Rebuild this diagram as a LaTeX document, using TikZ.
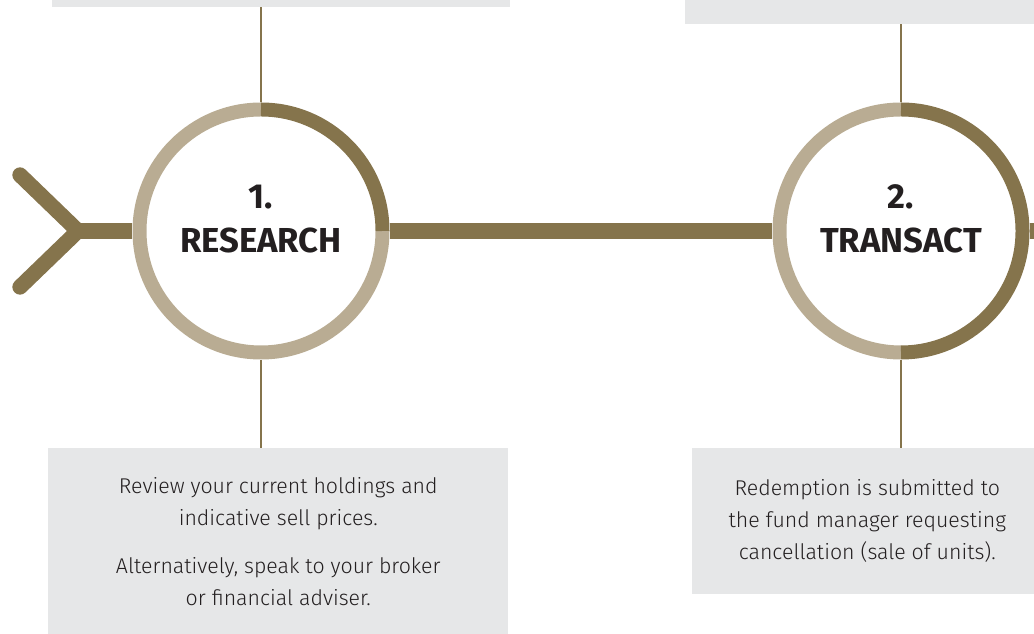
\documentclass[tikz,border=0pt]{standalone}
\usepackage{fontspec}
\setmainfont{Fira Sans}
\newfontfamily\lightfont{Fira Sans Light}
\usetikzlibrary{calc,positioning}
\definecolor{darkbrown}{HTML}{85744C}
\definecolor{lighttan}{HTML}{B9AC93}
\definecolor{boxgray}{HTML}{E6E7E8}
\definecolor{textgray}{HTML}{231F20}
\tikzset{
  ring/.style={circle,minimum size=192.75pt,inner sep=0pt},
  thickline/.style={darkbrown,line width=11.5pt},
  thinline/.style={darkbrown,line width=1.5pt},
  notebox/.style={fill=boxgray,inner sep=0pt,align=center,text=textgray,
    font=\lightfont\fontsize{16}{24}\selectfont},
  steptitle/.style={align=center,text=textgray,font=\bfseries\fontsize{26}{33}\selectfont}
}

\begin{document}
\begin{tikzpicture}[x=0.75pt,y=0.75pt]
  \useasboundingbox (0,0) rectangle (1034,634);
  \clip (0,0) rectangle (1034,634); % boxes run off the page
  % grey note boxes
  \node[notebox,minimum width=343.5pt,minimum height=30pt,anchor=south west] (restop) at (52,627) {};
  \node[notebox,minimum width=270pt,minimum height=30pt,anchor=south west] (tratop) at (685,610) {};
  \node[notebox,minimum width=345pt,minimum height=139.5pt,anchor=north west] (resnote) at (48,186)
    {Review your current holdings and\\indicative sell prices.\\[12pt]Alternatively, speak to your broker\\or financial adviser.};
  \node[notebox,minimum width=262.5pt,minimum height=109.5pt,anchor=north west] (tranote) at (692,186)
    {Redemption is submitted to\\the fund manager requesting\\cancellation (sale of units).};
  % the two steps
  \node[ring] (res) at (261,403) {};
  \node[ring] (tra) at (901,403) {};
  \draw[lighttan,line width=10.5pt] (res.center) ++(90:121.5) arc[start angle=90,end angle=360,radius=121.5];
  \draw[darkbrown,line width=10.5pt] (res.center) ++(0:121.5) arc[start angle=0,end angle=90,radius=121.5];
  \draw[lighttan,line width=10.5pt] (tra.center) ++(90:121.5) arc[start angle=90,end angle=270,radius=121.5];
  \draw[darkbrown,line width=10.5pt] (tra.center) ++(-90:121.5) arc[start angle=-90,end angle=90,radius=121.5];
  \node[steptitle] (restitle) at ([yshift=9pt]res.center) {1.\\RESEARCH};
  \node[steptitle] (tratitle) at ([yshift=9pt]tra.center) {2.\\TRANSACT};
  % main line with the tail on the left
  \coordinate (tail) at (78,403);
  \coordinate (armup) at (20,459);
  \coordinate (armdown) at (20,347);
  \coordinate (rightend) at (1040,403);
  \draw[thickline,line cap=round] (armup) -- (tail) -- (armdown);
  \draw[thickline] (tail) -- (res.west);
  \draw[thickline] (res.east) -- (tra.west);
  \draw[thickline] (tra.east) -- (rightend);
  % thin links to the boxes
  \draw[thinline] (res.north) -- (res.north |- restop.south);
  \draw[thinline] (tra.north) -- (tra.north |- tratop.south);
  \draw[thinline] (res.south) -- (res.south |- resnote.north);
  \draw[thinline] (tra.south) -- (tra.south |- tranote.north);
\end{tikzpicture}
\end{document}
